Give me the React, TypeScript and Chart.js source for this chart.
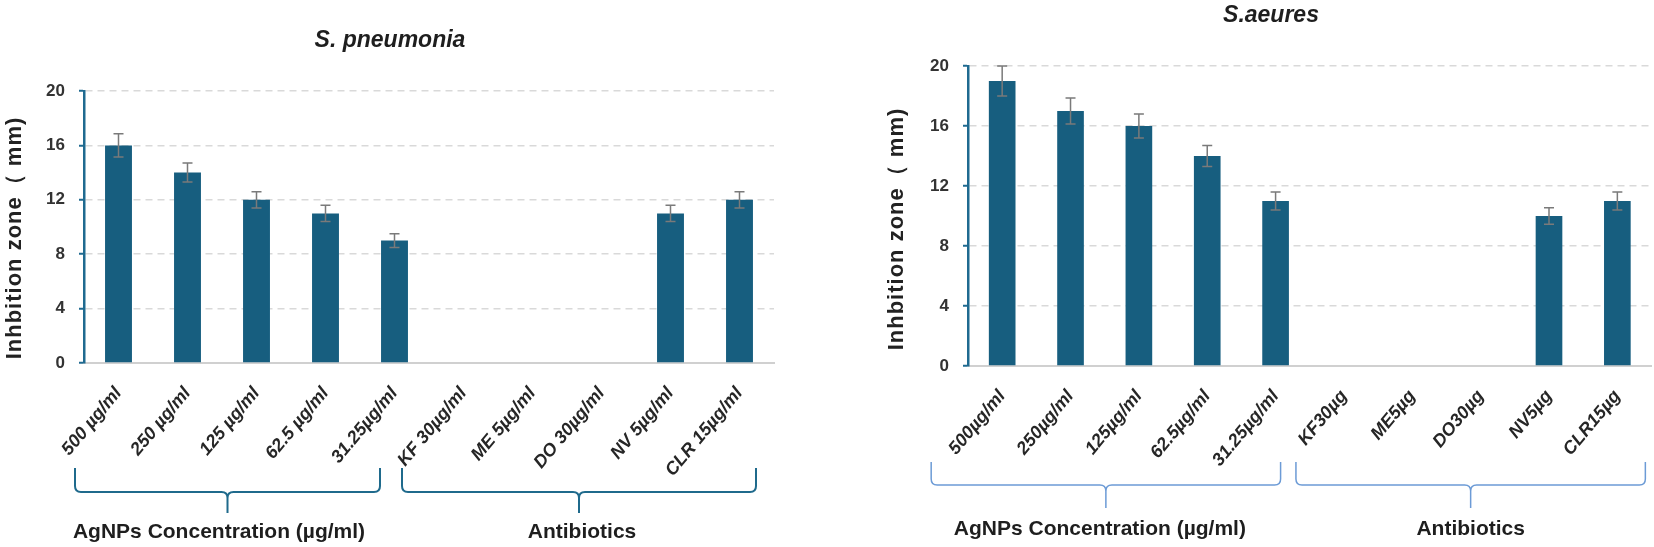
import React, { useEffect, useRef } from "react";
import { Chart, registerables } from "chart.js";

Chart.register(...registerables);

// ---------- data ----------
const pneumoniaCategories = [
  "500 µg/ml", "250 µg/ml", "125 µg/ml", "62.5 µg/ml", "31.25µg/ml",
  "KF 30µg/ml", "ME 5µg/ml", "DO 30µg/ml", "NV 5µg/ml", "CLR 15µg/ml",
];
const pneumoniaValues: (number | null)[] = [16, 14, 12, 11, 9, null, null, null, 11, 12];
const pneumoniaErrors: number[] = [0.85, 0.7, 0.6, 0.6, 0.5, 0, 0, 0, 0.6, 0.6];

const aureusCategories = [
  "500µg/ml", "250µg/ml", "125µg/ml", "62.5µg/ml", "31.25µg/ml",
  "KF30µg", "ME5µg", "DO30µg", "NV5µg", "CLR15µg",
];
const aureusValues: (number | null)[] = [19, 17, 16, 14, 11, null, null, null, 10, 11];
const aureusErrors: number[] = [1.0, 0.87, 0.8, 0.7, 0.6, 0, 0, 0, 0.55, 0.6];

const yTicks = { min: 0, max: 20, step: 4 };
const groupLabels = ["AgNPs Concentration (µg/ml)", "Antibiotics"];
const yAxisTitle = "Inhbition zone（ mm)";

// ---------- layout / style ----------
const BAR_COLOR = "#175e7f";
const AXIS_BLUE = "#1f6a90";
const FONT = "'Liberation Sans', Arial, sans-serif";

type Brace = { i0: number; off0: number; i1: number; off1: number; label: string; labelOff: number };
type Panel = {
  title: string;
  titleX: number; // canvas coords
  titleBaseline: number;
  yTitleX: number;
  yTitleY: number;
  canvasLeft: number;
  canvasWidth: number;
  area: { left: number; right: number; top: number; bottom: number };
  labels: string[];
  values: (number | null)[];
  errors: number[];
  braceColor: string;
  braceWidth: number;
  braceTop: number;
  braceMid: number;
  braceTip: number;
  labelBaseline: number;
  braces: Brace[];
};

const HEIGHT = 547;

const panels: Panel[] = [
  {
    title: "S. pneumonia",
    titleX: 390,
    titleBaseline: 47,
    yTitleX: 15,
    yTitleY: 238,
    canvasLeft: 0,
    canvasWidth: 800,
    area: { left: 84, right: 774, top: 91, bottom: 363 },
    labels: pneumoniaCategories,
    values: pneumoniaValues,
    errors: pneumoniaErrors,
    braceColor: "#1f6a8c",
    braceWidth: 2,
    braceTop: 468,
    braceMid: 492,
    braceTip: 513,
    labelBaseline: 538,
    braces: [
      { i0: 0, off0: -43.5, i1: 4, off1: -14.5, label: groupLabels[0], labelOff: -8.5 },
      { i0: 5, off0: -61.5, i1: 9, off1: 16.5, label: groupLabels[1], labelOff: 3 },
    ],
  },
  {
    title: "S.aeures",
    titleX: 1271 - 884,
    titleBaseline: 22,
    yTitleX: 13,
    yTitleY: 229,
    canvasLeft: 884,
    canvasWidth: 770,
    area: { left: 84, right: 768, top: 66, bottom: 366 },
    labels: aureusCategories,
    values: aureusValues,
    errors: aureusErrors,
    braceColor: "#6c9bd6",
    braceWidth: 1.5,
    braceTop: 462,
    braceMid: 485,
    braceTip: 508,
    labelBaseline: 535,
    braces: [
      { i0: 0, off0: -71, i1: 4, off1: 5, label: groupLabels[0], labelOff: -6 },
      { i0: 5, off0: -48, i1: 9, off1: 28, label: groupLabels[1], labelOff: 0 },
    ],
  },
];

function makeDecorPlugin(p: Panel) {
  return {
    id: "decor",
    afterDatasetsDraw(chart: any) {
      const ctx = chart.ctx as CanvasRenderingContext2D;
      const y = chart.scales.y;
      const meta = chart.getDatasetMeta(0);
      ctx.save();
      ctx.strokeStyle = "#7a7a7a";
      ctx.lineWidth = 1.5;
      p.errors.forEach((e, i) => {
        const v = p.values[i];
        if (v == null || !e) return;
        const bx = meta.data[i].x;
        const t = y.getPixelForValue(v + e);
        const b = y.getPixelForValue(v - e);
        ctx.beginPath();
        ctx.moveTo(bx, t);
        ctx.lineTo(bx, b);
        ctx.moveTo(bx - 5, t);
        ctx.lineTo(bx + 5, t);
        ctx.moveTo(bx - 5, b);
        ctx.lineTo(bx + 5, b);
        ctx.stroke();
      });
      ctx.restore();
    },
    afterDraw(chart: any) {
      const ctx = chart.ctx as CanvasRenderingContext2D;
      const x = chart.scales.x;
      ctx.save();
      // title
      ctx.fillStyle = "#1e1e1e";
      ctx.font = `italic bold 23px ${FONT}`;
      ctx.textAlign = "center";
      ctx.textBaseline = "alphabetic";
      ctx.fillText(p.title, p.titleX, p.titleBaseline);
      // y axis title
      ctx.save();
      ctx.translate(p.yTitleX, p.yTitleY);
      ctx.rotate(-Math.PI / 2);
      ctx.font = `bold 22px ${FONT}`;
      (ctx as any).letterSpacing = "1px";
      ctx.fillStyle = "#222222";
      ctx.textAlign = "center";
      ctx.textBaseline = "middle";
      ctx.fillText(yAxisTitle, 0, 0);
      ctx.restore();
      // braces
      const r = 6;
      p.braces.forEach((br) => {
        const x1 = x.getPixelForValue(br.i0) + br.off0;
        const x2 = x.getPixelForValue(br.i1) + br.off1;
        const xc = (x1 + x2) / 2;
        const yt = p.braceTop, ym = p.braceMid, yb = p.braceTip;
        ctx.strokeStyle = p.braceColor;
        ctx.lineWidth = p.braceWidth;
        ctx.beginPath();
        ctx.moveTo(x1, yt);
        ctx.lineTo(x1, ym - r);
        ctx.quadraticCurveTo(x1, ym, x1 + r, ym);
        ctx.lineTo(xc - r, ym);
        ctx.quadraticCurveTo(xc, ym, xc, ym + r);
        ctx.lineTo(xc, yb);
        ctx.moveTo(xc, ym + r);
        ctx.quadraticCurveTo(xc, ym, xc + r, ym);
        ctx.lineTo(x2 - r, ym);
        ctx.quadraticCurveTo(x2, ym, x2, ym - r);
        ctx.lineTo(x2, yt);
        ctx.stroke();
        ctx.fillStyle = "#1e1e1e";
        ctx.font = `bold 21px ${FONT}`;
        ctx.textAlign = "center";
        ctx.textBaseline = "alphabetic";
        ctx.fillText(br.label, xc + br.labelOff, p.labelBaseline);
      });
      ctx.restore();
    },
  };
}

function BarPanel({ p }: { p: Panel }) {
  const ref = useRef<HTMLCanvasElement | null>(null);
  useEffect(() => {
    if (!ref.current) return;
    const chart = new Chart(ref.current, {
      type: "bar",
      data: {
        labels: p.labels,
        datasets: [
          {
            data: p.values as any,
            backgroundColor: BAR_COLOR,
            borderWidth: 0,
            barPercentage: 0.39,
            categoryPercentage: 1,
          },
        ],
      },
      options: {
        responsive: false,
        animation: false,
        devicePixelRatio: 1,
        layout: {
          padding: { left: 0, right: p.canvasWidth - p.area.right, top: p.area.top, bottom: 0 },
        },
        plugins: {
          legend: { display: false },
          tooltip: { enabled: false },
          title: { display: false },
        },
        scales: {
          x: {
            offset: true,
            grid: { display: false, drawTicks: false },
            border: { display: true, color: "#d0d0d0", width: 2 },
            ticks: {
              autoSkip: false,
              minRotation: 50,
              maxRotation: 50,
              padding: 20,
              color: "#262626",
              font: { family: FONT, size: 18, weight: "bold", style: "italic" },
            },
            afterFit: (s: any) => {
              s.height = HEIGHT - p.area.bottom;
            },
          },
          y: {
            min: yTicks.min,
            max: yTicks.max,
            ticks: {
              stepSize: yTicks.step,
              padding: 14,
              color: "#333333",
              font: { family: FONT, size: 17, weight: "bold" },
            },
            grid: {
              color: "#d9d9d9",
              lineWidth: 1.5,
              tickColor: AXIS_BLUE,
              tickLength: 5,
              tickWidth: 2,
            },
            border: { display: true, color: AXIS_BLUE, width: 2.5, dash: [7, 5] },
            title: { display: false },
            afterFit: (s: any) => {
              s.width = p.area.left;
            },
          },
        },
      },
      plugins: [makeDecorPlugin(p)],
    });
    return () => chart.destroy();
  }, [p]);
  return (
    <canvas
      ref={ref}
      width={p.canvasWidth}
      height={HEIGHT}
      style={{ position: "absolute", left: p.canvasLeft, top: 0, width: p.canvasWidth, height: HEIGHT }}
    />
  );
}

export default function App() {
  return (
    <div style={{ position: "absolute", left: 0, top: 0, width: 1654, height: HEIGHT, background: "#ffffff" }}>
      {panels.map((p, i) => (
        <BarPanel key={i} p={p} />
      ))}
    </div>
  );
}
